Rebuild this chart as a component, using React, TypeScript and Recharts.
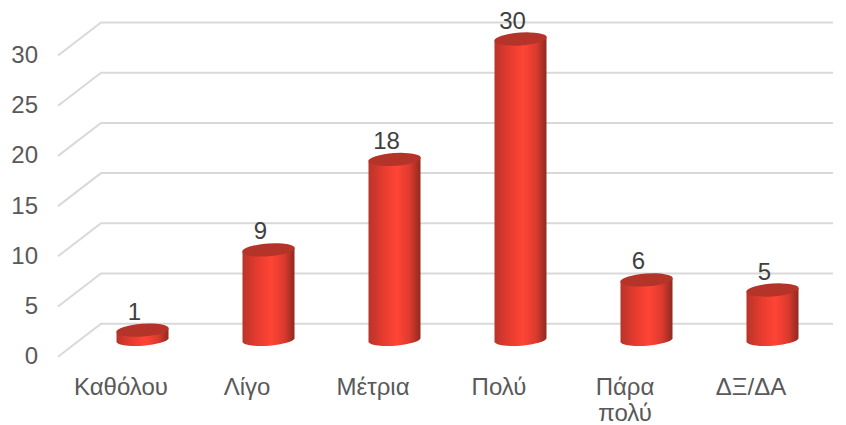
import { Bar, BarChart, CartesianGrid, LabelList, XAxis, YAxis } from "recharts"

const categories = ["Καθόλου", "Λίγο", "Μέτρια", "Πολύ", "Πάρα πολύ", "ΔΞ/ΔΑ"]
const counts = [1, 9, 18, 30, 6, 5]
const valueTicks = [0, 5, 10, 15, 20, 25, 30]

const data = categories.map((name, i) => ({ name, count: counts[i] }))

const FONT = "Liberation Sans, Arial, sans-serif"
const TEXT = "#595959"
// the fake 3D floor: back wall sits up and to the right of the front plane
const DEPTH_X = 43
const DEPTH_Y = 33

function GridLine(props: any) {
  const { x1, y1, x2 } = props
  return (
    <path
      d={`M${x1},${y1} L${x1 + DEPTH_X},${y1 - DEPTH_Y} L${x2 + 19},${y1 - DEPTH_Y}`}
      fill="none"
      stroke="#d9d9d9"
      strokeWidth={2}
    />
  )
}

function Cylinder(props: any) {
  const { x, y, width, height } = props
  const left = x + DEPTH_X / 2
  const right = left + width
  const top = y - DEPTH_Y / 2
  const bottom = top + height
  const rx = width / 2 + 0.3
  const ry = 6.4
  const tilt = 2
  return (
    <g>
      <path
        d={`M${left},${top + tilt} L${left},${bottom + tilt} A${rx} ${ry} -4 0 0 ${right},${bottom - tilt} L${right},${top - tilt} Z`}
        fill="url(#cylinderBody)"
      />
      <ellipse
        cx={(left + right) / 2}
        cy={top}
        rx={rx}
        ry={ry}
        fill="#b5342a"
        transform={`rotate(-4 ${(left + right) / 2} ${top})`}
      />
    </g>
  )
}

function BarValue(props: any) {
  const { x, y, width, value } = props
  return (
    <text
      x={x + width / 2 + DEPTH_X / 2 - 8}
      y={y - DEPTH_Y / 2 - 19}
      textAnchor="middle"
      dominantBaseline="central"
      fontFamily={FONT}
      fontSize={24}
      fill="#404040"
    >
      {value}
    </text>
  )
}

function ValueTick(props: any) {
  const { y, payload } = props
  return (
    <text x={38} y={y - 1} textAnchor="end" dominantBaseline="central" fontFamily={FONT} fontSize={24} fill={TEXT}>
      {payload.value}
    </text>
  )
}

function CategoryTick(props: any) {
  const { x, payload } = props
  const words = payload.value === "Πάρα πολύ" ? payload.value.split(" ") : [payload.value]
  return (
    <text textAnchor="middle" fontFamily={FONT} fontSize={24} fill={TEXT}>
      {words.map((w: string, i: number) => (
        <tspan key={w} x={x} y={395 + i * 26}>
          {w}
        </tspan>
      ))}
    </text>
  )
}

export default function App() {
  return (
    <div style={{ position: "absolute", left: 0, top: 0, width: 846, height: 425 }}>
      <BarChart
        width={846}
        height={425}
        data={data}
        margin={{ top: 55.5, right: 32, bottom: 0, left: 0 }}
      >
        <defs>
          <linearGradient id="cylinderBody" x1="0" y1="0" x2="1" y2="0">
            <stop offset="0%" stopColor="#b8342a" />
            <stop offset="25%" stopColor="#e23a2e" />
            <stop offset="55%" stopColor="#ff4535" />
            <stop offset="80%" stopColor="#dc3a2e" />
            <stop offset="100%" stopColor="#8f2a20" />
          </linearGradient>
        </defs>
        <CartesianGrid vertical={false} horizontal={GridLine} />
        <XAxis dataKey="name" axisLine={false} tickLine={false} height={68.3} tick={CategoryTick} interval={0} />
        <YAxis
          domain={[0, 30]}
          ticks={valueTicks}
          width={58}
          axisLine={false}
          tickLine={false}
          tick={ValueTick}
        />
        <Bar dataKey="count" barSize={52} shape={Cylinder} isAnimationActive={false}>
          <LabelList dataKey="count" content={BarValue} />
        </Bar>
      </BarChart>
    </div>
  )
}
